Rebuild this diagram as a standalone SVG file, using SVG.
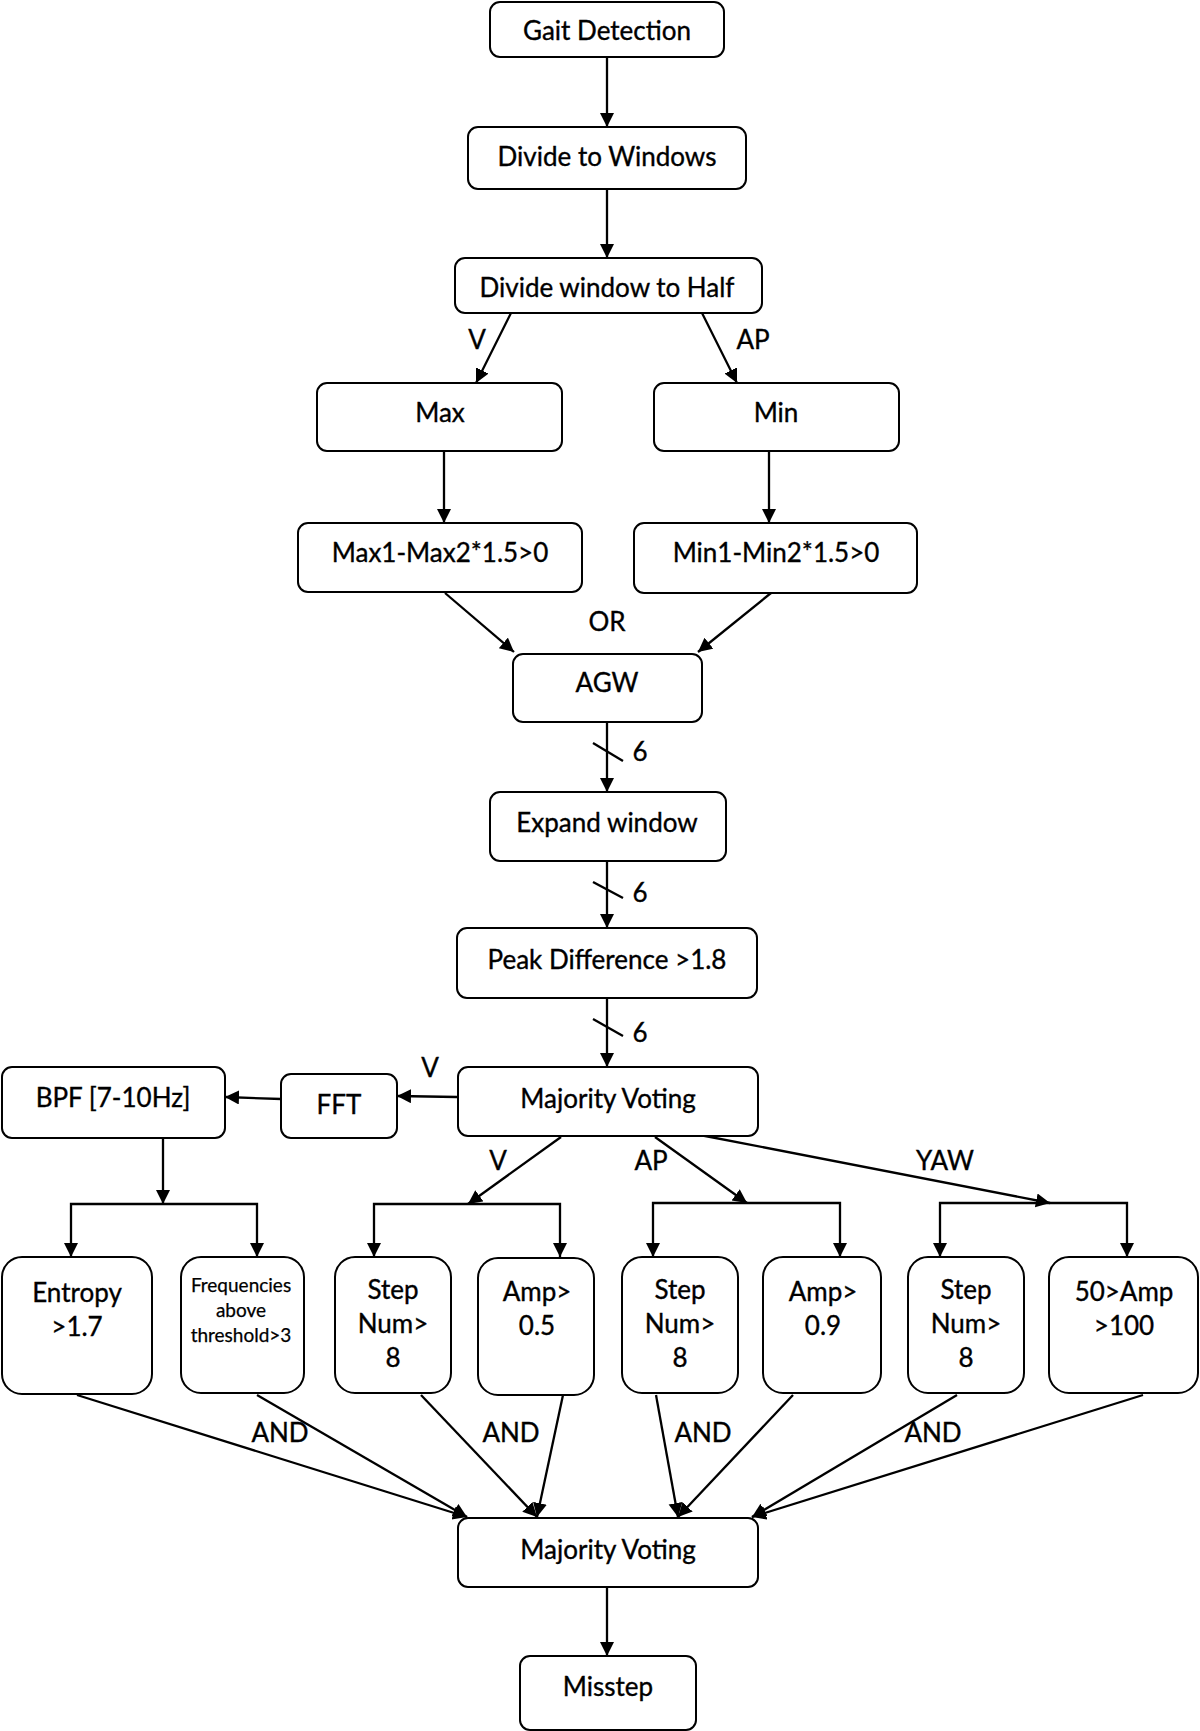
<svg xmlns="http://www.w3.org/2000/svg" width="1200" height="1731" viewBox="0 0 1200 1731">
<defs>
<marker id="arr" markerUnits="userSpaceOnUse" markerWidth="16" markerHeight="16" refX="14" refY="7" orient="auto">
<path d="M0,0 L14,7 L0,14 z" fill="#000"/>
</marker>
<style>
.box{fill:#fff;stroke:#000;stroke-width:2}
.t{font-family:Lato,"Liberation Sans",sans-serif;font-size:26px;fill:#000;stroke:#000;stroke-width:0.35;text-anchor:middle}
.s{font-family:Lato,"Liberation Sans",sans-serif;font-size:19px;fill:#000;stroke:#000;stroke-width:0.25;text-anchor:middle}
.c{fill:none;stroke:#000;stroke-width:2.3}
.a{fill:none;stroke:#000;stroke-width:2.3;marker-end:url(#arr)}
</style>
</defs>
<rect width="1200" height="1731" fill="#fff"/>
<g id="connectors">
<path class="a" d="M607,56 L607,127"/>
<path class="a" d="M607,189 L607,258"/>
<path class="a" d="M511,313 L476,383"/>
<path class="a" d="M702,313 L737,383"/>
<path class="a" d="M444,451 L444,523"/>
<path class="a" d="M769,451 L769,523"/>
<path class="a" d="M445,593 L514,652"/>
<path class="a" d="M771,593 L698,652"/>
<path class="a" d="M607,722 L607,792"/>
<path class="c" d="M593,743 L623,761"/>
<path class="a" d="M607,861 L607,928"/>
<path class="c" d="M593,882 L623,898"/>
<path class="a" d="M607,998 L607,1067"/>
<path class="c" d="M593,1019 L623,1036"/>
<path class="a" d="M457,1097 L397,1096"/>
<path class="a" d="M281,1099 L225,1097"/>
<path class="a" d="M163,1138 L163,1204"/>
<path class="a" d="M163,1204 L71,1204 L71,1257"/>
<path class="a" d="M163,1204 L257,1204 L257,1257"/>
<path class="a" d="M561,1137 L468,1204"/>
<path class="a" d="M468,1204 L374,1204 L374,1257"/>
<path class="a" d="M468,1204 L560,1204 L560,1257"/>
<path class="a" d="M655,1137 L747,1203"/>
<path class="a" d="M747,1203 L653,1203 L653,1257"/>
<path class="a" d="M747,1203 L840,1203 L840,1257"/>
<path class="a" d="M700,1135 L1050,1203"/>
<path class="a" d="M1050,1203 L940,1203 L940,1257"/>
<path class="a" d="M1050,1203 L1127,1203 L1127,1257"/>
<path class="a" d="M77,1395 L467,1517"/>
<path class="a" d="M257,1395 L467,1517"/>
<path class="a" d="M421,1395 L537,1517"/>
<path class="a" d="M563,1395 L537,1517"/>
<path class="a" d="M656,1395 L678,1517"/>
<path class="a" d="M793,1395 L678,1517"/>
<path class="a" d="M957,1395 L752,1517"/>
<path class="a" d="M1143,1395 L752,1517"/>
<path class="a" d="M607,1587 L607,1656"/>
<text class="t" x="477" y="349">V</text>
<text class="t" x="753" y="349">AP</text>
<text class="t" x="607" y="631">OR</text>
<text class="t" x="640" y="761">6</text>
<text class="t" x="640" y="902">6</text>
<text class="t" x="640" y="1042">6</text>
<text class="t" x="430" y="1077">V</text>
<text class="t" x="498" y="1170">V</text>
<text class="t" x="651" y="1170">AP</text>
<text class="t" x="945" y="1170">YAW</text>
<text class="t" x="280" y="1442">AND</text>
<text class="t" x="511" y="1442">AND</text>
<text class="t" x="703" y="1442">AND</text>
<text class="t" x="933" y="1442">AND</text>
</g>
<g id="gait"><rect class="box" x="490" y="2" width="234" height="55" rx="10"/><text class="t" x="607" y="40">Gait Detection</text></g>
<g id="divwin"><rect class="box" x="468" y="127" width="278" height="62" rx="10"/><text class="t" x="607" y="166">Divide to Windows</text></g>
<g id="divhalf"><rect class="box" x="455" y="258" width="307" height="55" rx="10"/><text class="t" x="607" y="297">Divide window to Half</text></g>
<g id="max"><rect class="box" x="317" y="383" width="245" height="68" rx="10"/><text class="t" x="440" y="422">Max</text></g>
<g id="min"><rect class="box" x="654" y="383" width="245" height="68" rx="10"/><text class="t" x="776" y="422">Min</text></g>
<g id="max1"><rect class="box" x="298" y="523" width="284" height="69" rx="10"/><text class="t" x="440" y="562">Max1-Max2*1.5&gt;0</text></g>
<g id="min1"><rect class="box" x="634" y="523" width="283" height="70" rx="10"/><text class="t" x="776" y="562">Min1-Min2*1.5&gt;0</text></g>
<g id="agw"><rect class="box" x="513" y="654" width="189" height="68" rx="10"/><text class="t" x="607" y="692">AGW</text></g>
<g id="expand"><rect class="box" x="490" y="792" width="236" height="69" rx="10"/><text class="t" x="607" y="832">Expand window</text></g>
<g id="peak"><rect class="box" x="457" y="928" width="300" height="70" rx="10"/><text class="t" x="607" y="969">Peak Difference &gt;1.8</text></g>
<g id="mv1"><rect class="box" x="458" y="1067" width="300" height="69" rx="10"/><text class="t" x="608" y="1108">Majority Voting</text></g>
<g id="fft"><rect class="box" x="281" y="1074" width="116" height="64" rx="10"/><text class="t" x="339" y="1114">FFT</text></g>
<g id="bpf"><rect class="box" x="2" y="1067" width="223" height="71" rx="10"/><text class="t" x="113" y="1107">BPF [7-10Hz]</text></g>
<g id="entropy"><rect class="box" x="2" y="1257" width="150" height="137" rx="20"/><text class="t" x="77" y="1302">Entropy</text><text class="t" x="77" y="1336">&gt;1.7</text></g>
<g id="freq"><rect class="box" x="181" y="1257" width="123" height="136" rx="20"/><text class="s" x="241" y="1292">Frequencies</text><text class="s" x="241" y="1317">above</text><text class="s" x="241" y="1342">threshold&gt;3</text></g>
<g id="stepv"><rect class="box" x="335" y="1257" width="116" height="136" rx="20"/><text class="t" x="393" y="1299">Step</text><text class="t" x="393" y="1333">Num&gt;</text><text class="t" x="393" y="1367">8</text></g>
<g id="ampv"><rect class="box" x="478" y="1258" width="116" height="137" rx="20"/><text class="t" x="537" y="1301">Amp&gt;</text><text class="t" x="537" y="1335">0.5</text></g>
<g id="stepap"><rect class="box" x="622" y="1257" width="116" height="136" rx="20"/><text class="t" x="680" y="1299">Step</text><text class="t" x="680" y="1333">Num&gt;</text><text class="t" x="680" y="1367">8</text></g>
<g id="ampap"><rect class="box" x="763" y="1257" width="118" height="136" rx="20"/><text class="t" x="823" y="1301">Amp&gt;</text><text class="t" x="823" y="1335">0.9</text></g>
<g id="stepyaw"><rect class="box" x="908" y="1257" width="116" height="136" rx="20"/><text class="t" x="966" y="1299">Step</text><text class="t" x="966" y="1333">Num&gt;</text><text class="t" x="966" y="1367">8</text></g>
<g id="ampyaw"><rect class="box" x="1049" y="1257" width="149" height="136" rx="20"/><text class="t" x="1124" y="1301">50&gt;Amp</text><text class="t" x="1124" y="1335">&gt;100</text></g>
<g id="mv2"><rect class="box" x="458" y="1518" width="300" height="69" rx="10"/><text class="t" x="608" y="1559">Majority Voting</text></g>
<g id="misstep"><rect class="box" x="520" y="1656" width="176" height="74" rx="10"/><text class="t" x="608" y="1696">Misstep</text></g>
</svg>
